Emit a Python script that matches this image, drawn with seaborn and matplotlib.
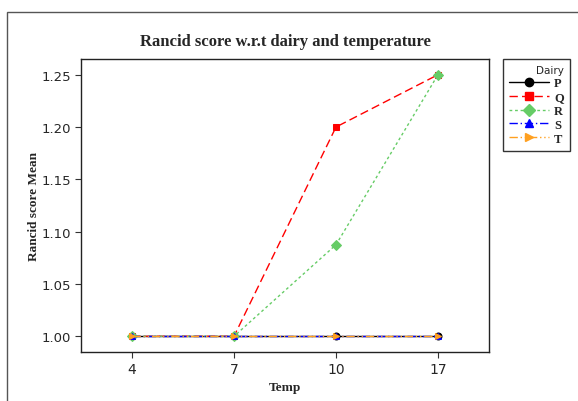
import matplotlib
matplotlib.use("Agg")
import matplotlib.pyplot as plt
import seaborn as sns
import pandas as pd
from matplotlib.patches import Rectangle
from matplotlib.lines import Line2D

temps = ["4", "7", "10", "17"]
dairies = ["P", "Q", "R", "S", "T"]
values = {
    "P": [1.0, 1.0, 1.0, 1.0],
    "Q": [1.0, 1.0, 1.2, 1.25],
    "R": [1.0, 1.0, 1.0875, 1.25],
    "S": [1.0, 1.0, 1.0, 1.0],
    "T": [1.0, 1.0, 1.0, 1.0],
}
colors = ["#000000", "#ff0000", "#66cc66", "#0000ff", "#ffa020"]
markers = ["o", "s", "D", "^", ">"]
linestyles = ["-", (0, (6, 3)), (0, (2, 2)), (0, (6, 2, 1, 2)), (0, (6, 2, 1, 2, 1, 2))]
yticks = [1.00, 1.05, 1.10, 1.15, 1.20, 1.25]

rows = []
for d in dairies:
    for t, v in zip(temps, values[d]):
        rows.append({"Temp": t, "Dairy": d, "Mean": v})
df = pd.DataFrame(rows)

sns.set_style("white")
fig = plt.figure(figsize=(5.78, 4.02), dpi=100)
ax = fig.add_axes([81/578, 1-353/402, (489-81)/578, (353-60)/402])

sns.pointplot(data=df, x="Temp", y="Mean", hue="Dairy", order=temps, hue_order=dairies,
              palette=colors, markers=markers, linestyles=linestyles, dodge=False,
              errorbar=None, markersize=5, linewidth=1.0, ax=ax, legend=False)

ax.set_xlim(-0.5, 3.5)
ax.set_ylim(0.985, 1.265)
ax.set_yticks(yticks)
ax.set_yticklabels([f"{v:.2f}" for v in yticks], fontsize=9.5, family="DejaVu Sans")
ax.set_xticks(range(len(temps)))
ax.set_xticklabels(temps, fontsize=10, family="DejaVu Sans")
ax.tick_params(axis="both", length=4, width=0.8, color="#333333", direction="out",
               bottom=True, left=True, pad=3)
for s in ax.spines.values():
    s.set_color("#222222")
    s.set_linewidth(1.0)

serif = ["Liberation Serif", "DejaVu Serif"]
ax.set_xlabel("Temp", fontsize=9.5, fontweight="bold", family=serif, labelpad=4)
ax.set_ylabel("Rancid score Mean", fontsize=9.5, fontweight="bold", family=serif, labelpad=1)
fig.text(285/578, 1-42/402, "Rancid score w.r.t dairy and temperature", ha="center",
         va="center", fontsize=12, fontweight="bold", family=serif)

handles = [Line2D([0], [0], color=c, marker=m, linestyle=ls, linewidth=1.0, markersize=6)
           for c, m, ls in zip(colors, markers, linestyles)]
leg = fig.legend(handles, dairies, title="Dairy", loc="upper left",
                 bbox_to_anchor=(503/578, 1-60/402), frameon=True, fancybox=False,
                 handlelength=3.2, handletextpad=0.4, borderpad=0.5, labelspacing=0.15,
                 borderaxespad=0,
                 prop={"family": serif, "size": 9, "weight": "bold"},
                 title_fontproperties={"family": "DejaVu Sans", "size": 7.5})
leg._legend_box.align = "right"
leg.get_frame().set_edgecolor("#000000")
leg.get_frame().set_linewidth(1.0)

fig.add_artist(Rectangle((7/578, -0.1), 1.2, 1-13/402+0.1, transform=fig.transFigure,
                         fill=False, edgecolor="#555555", linewidth=1.0))

fig.savefig("out.png", dpi=100)
